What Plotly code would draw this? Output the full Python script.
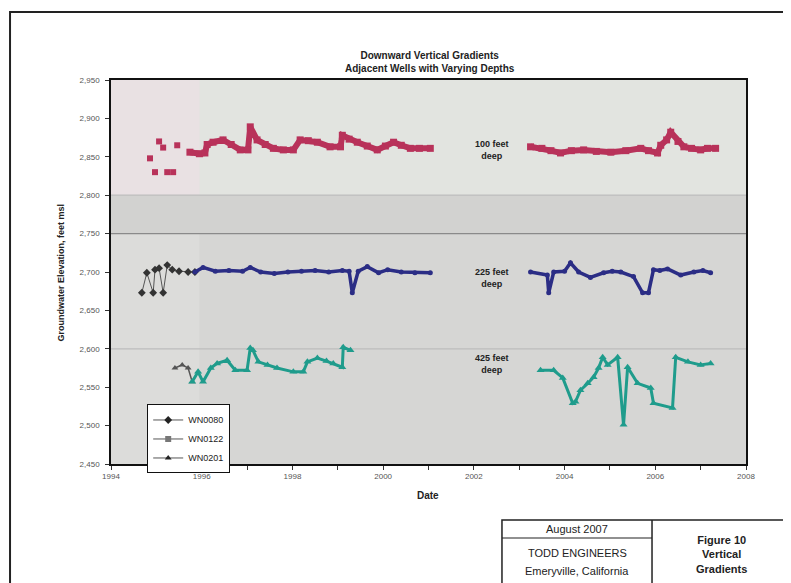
import plotly.graph_objects as go

# ---------------- data (decimal years, feet msl) ----------------
# WN0122 - 100 feet deep
wn0122_early_x = [1994.86, 1994.97, 1995.06, 1995.15, 1995.24, 1995.37, 1995.46]
wn0122_early_y = [2848, 2830, 2870, 2862, 2830, 2830, 2865]
wn0122_x = [1995.74, 1995.95, 1996.07, 1996.12, 1996.25, 1996.47, 1996.65, 1996.85, 1997.02,
            1997.07, 1997.22, 1997.4, 1997.58, 1997.8, 1998.02, 1998.17, 1998.35, 1998.55,
            1998.83, 1999.06, 1999.1, 1999.25, 1999.43, 1999.65, 1999.87, 2000.05, 2000.23,
            2000.4, 2000.6, 2000.8, 2001.04,
            None,
            2003.25, 2003.5, 2003.7, 2003.91, 2004.15, 2004.42, 2004.7, 2005.02, 2005.35,
            2005.68, 2005.85, 2006.05, 2006.12, 2006.25, 2006.34, 2006.5, 2006.63, 2006.8,
            2007.0, 2007.15, 2007.33]
wn0122_y = [2856, 2854, 2855, 2866, 2869, 2872, 2866, 2859, 2859,
            2889, 2872, 2866, 2861, 2859, 2859, 2872, 2871, 2869,
            2863, 2863, 2878, 2873, 2869, 2864, 2859, 2864, 2869,
            2865, 2861, 2861, 2861,
            None,
            2863, 2861, 2858, 2855, 2858, 2859, 2857, 2856, 2858,
            2861, 2858, 2855, 2865, 2872, 2882, 2870, 2863, 2861,
            2859, 2861, 2861]

# WN0080 - 225 feet deep
wn0080_early_x = [1994.68, 1994.79, 1994.93, 1994.97, 1995.06, 1995.15, 1995.24, 1995.35,
                  1995.5, 1995.7, 1995.85]
wn0080_early_y = [2673, 2699, 2673, 2703, 2705, 2673, 2709, 2703, 2701, 2700, 2700]
wn0080_x = [1995.85, 1996.03, 1996.3, 1996.6, 1996.9, 1997.07, 1997.3, 1997.6, 1997.9,
            1998.2, 1998.5, 1998.8, 1999.1, 1999.25, 1999.32, 1999.45, 1999.65, 1999.9,
            2000.1, 2000.4, 2000.7, 2001.04,
            None,
            2003.25, 2003.62, 2003.65, 2003.76, 2004.0, 2004.13, 2004.31, 2004.57, 2004.86,
            2005.05, 2005.24, 2005.52, 2005.72, 2005.85, 2005.96, 2006.1, 2006.27, 2006.56,
            2006.85, 2007.05, 2007.22]
wn0080_y = [2700, 2706, 2701, 2702, 2701, 2706, 2700, 2698, 2700,
            2701, 2702, 2700, 2702, 2701, 2673, 2701, 2707, 2699,
            2703, 2700, 2699, 2699,
            None,
            2700, 2696, 2673, 2700, 2701, 2712, 2700, 2693, 2699,
            2701, 2700, 2694, 2673, 2673, 2703, 2702, 2704, 2696,
            2700, 2702, 2699]

# WN0201 - 425 feet deep
wn0201_early_x = [1995.41, 1995.57, 1995.7, 1995.79]
wn0201_early_y = [2575, 2579, 2575, 2557]
wn0201_x = [1995.79, 1995.92, 1996.03, 1996.2, 1996.34, 1996.56, 1996.74, 1997.0, 1997.07,
            1997.13, 1997.25, 1997.45, 1997.66, 1998.02, 1998.24, 1998.33, 1998.55, 1998.75,
            1998.9, 1999.1, 1999.12, 1999.28,
            None,
            2003.47, 2003.76, 2003.96, 2004.18, 2004.24, 2004.35, 2004.51, 2004.64, 2004.75,
            2004.84, 2004.95, 2005.17, 2005.3, 2005.39, 2005.61, 2005.9, 2005.96, 2006.38,
            2006.45, 2006.72, 2007.0, 2007.22]
wn0201_y = [2557, 2570, 2557, 2575, 2581, 2585, 2572, 2572, 2601,
            2598, 2583, 2579, 2575, 2570, 2570, 2583, 2588, 2584,
            2581, 2576, 2602, 2598,
            None,
            2572, 2572, 2562, 2529, 2531, 2546, 2555, 2563, 2575,
            2589, 2579, 2589, 2501, 2576, 2555, 2549, 2529, 2523,
            2589, 2583, 2579, 2581]

depth_labels = ["100 feet<br>deep", "225 feet<br>deep", "425 feet<br>deep"]
depth_label_y = [2859, 2692, 2580]
depth_label_x = 2002.4

y_ticks = list(range(2450, 2951, 50))
x_ticks = list(range(1994, 2009, 2))

RED = "#b8325a"
BLUE = "#2b2d85"
TEAL = "#1f9c8c"
DARK = "#333333"
FONT = "Liberation Sans, Arial"

fig = go.Figure()

# background bands (scan look)
fig.add_shape(type="rect", xref="x", yref="y", x0=1994, x1=1995.95, y0=2450, y1=2800,
              fillcolor="#dcdcda", line_width=0, layer="below")
fig.add_shape(type="rect", xref="x", yref="y", x0=1994, x1=2008, y0=2800, y1=2950,
              fillcolor="#e2e4e0", line_width=0, layer="below")
fig.add_shape(type="rect", xref="x", yref="y", x0=1994, x1=1995.95, y0=2800, y1=2950,
              fillcolor="#e9e1e3", line_width=0, layer="below")
fig.add_shape(type="rect", xref="x", yref="y", x0=1994, x1=2008, y0=2750, y1=2800,
              fillcolor="#d2d2d0", line_width=0, layer="below")
for yv, col in [(2800, "#bdbdbd"), (2750, "#8a8a8a"), (2600, "#bcbcbc")]:
    fig.add_shape(type="line", xref="x", yref="y", x0=1994, x1=2008, y0=yv, y1=yv,
                  line=dict(color=col, width=1.2), layer="below")

# data traces
fig.add_trace(go.Scatter(x=wn0122_early_x, y=wn0122_early_y, mode="markers",
                         marker=dict(symbol="square", size=6, color=RED),
                         showlegend=False, hoverinfo="skip"))
fig.add_trace(go.Scatter(x=wn0122_x, y=wn0122_y, mode="lines+markers",
                         line=dict(color=RED, width=6),
                         marker=dict(symbol="square", size=7, color=RED),
                         showlegend=False, connectgaps=False))
fig.add_trace(go.Scatter(x=wn0080_early_x, y=wn0080_early_y, mode="lines+markers",
                         line=dict(color="#555555", width=1),
                         marker=dict(symbol="diamond", size=6, color=DARK),
                         showlegend=False))
fig.add_trace(go.Scatter(x=wn0080_x, y=wn0080_y, mode="lines+markers",
                         line=dict(color=BLUE, width=3.5),
                         marker=dict(symbol="circle", size=5, color=BLUE),
                         showlegend=False, connectgaps=False))
fig.add_trace(go.Scatter(x=wn0201_early_x, y=wn0201_early_y, mode="lines+markers",
                         line=dict(color="#555555", width=1.5),
                         marker=dict(symbol="triangle-up", size=6, color="#555555"),
                         showlegend=False))
fig.add_trace(go.Scatter(x=wn0201_x, y=wn0201_y, mode="lines+markers",
                         line=dict(color=TEAL, width=3),
                         marker=dict(symbol="triangle-up", size=7, color=TEAL),
                         showlegend=False, connectgaps=False))

# legend entries
for name, sym, col in [("WN0080", "diamond", "#222222"),
                       ("WN0122", "square", "#777777"),
                       ("WN0201", "triangle-up", "#222222")]:
    fig.add_trace(go.Scatter(x=[None], y=[None], mode="lines+markers", name=name,
                             line=dict(color="#555555", width=1),
                             marker=dict(symbol=sym, size=6, color=col)))


def ann(x, y, text, size, xref="paper", yref="paper", **kw):
    return dict(x=x, y=y, xref=xref, yref=yref, text=text, showarrow=False,
                xanchor="center", yanchor="middle", align="center",
                font=dict(family=FONT, size=size, color="#222"), **kw)


annotations = []
for t, yv in zip(depth_labels, depth_label_y):
    annotations.append(ann(depth_label_x, yv, "<b>" + t.replace("<br>", "</b><br><b>") + "</b>",
                           9, xref="x", yref="y"))

annotations += [
    ann(0.502, 1.047, "<b>Downward Vertical Gradients</b><br><b>Adjacent Wells with Varying Depths</b>", 10),
    ann(-0.078, 0.5, "<b>Groundwater Elevation, feet msl</b>", 9, textangle=-90),
    ann(0.499, -0.083, "<b>Date</b>", 10),
    ann(0.734, -0.170, "August 2007", 11),
    ann(0.734, -0.232, "TODD ENGINEERS", 11),
    ann(0.734, -0.278, "Emeryville, California", 11),
    ann(0.962, -0.236, "<b>Figure 10</b><br><b>Vertical</b><br><b>Gradients</b>", 11),
]

shapes_paper = [
    # page frame
    dict(type="rect", xref="paper", yref="paper", x0=-0.159, x1=1.0677, y0=-0.33, y1=1.177,
         line=dict(color="#222", width=2), fillcolor="rgba(0,0,0,0)"),
    # title block
    dict(type="rect", xref="paper", yref="paper", x0=0.6157, x1=1.08, y0=-0.33, y1=-0.1458,
         line=dict(color="#222", width=1.5), fillcolor="rgba(0,0,0,0)"),
    dict(type="line", xref="paper", yref="paper", x0=0.852, x1=0.852, y0=-0.33, y1=-0.1458,
         line=dict(color="#222", width=1.5)),
    dict(type="line", xref="paper", yref="paper", x0=0.6157, x1=0.852, y0=-0.1927, y1=-0.1927,
         line=dict(color="#222", width=1.2)),
]
for s in shapes_paper:
    fig.add_shape(**s)

# the page body has an 8px margin, so the figure is sized to the visible window
fig.update_layout(
    width=783, height=575,
    margin=dict(l=103, r=45, t=72, b=119),
    paper_bgcolor="white",
    plot_bgcolor="#d6d6d4",
    font=dict(family=FONT, size=8, color="#444"),
    annotations=annotations,
    legend=dict(x=0.057, y=0.155, xanchor="left", yanchor="top",
                bgcolor="white", bordercolor="#111", borderwidth=1,
                font=dict(family=FONT, size=9, color="#222"),
                itemwidth=30, tracegroupgap=0),
    showlegend=True,
)
fig.update_xaxes(range=[1994, 2008], tickvals=x_ticks, ticktext=[str(v) for v in x_ticks],
                 ticks="outside", ticklen=4, tickcolor="#333",
                 minor=dict(dtick=1, ticks="outside", ticklen=4, tickcolor="#333"),
                 showgrid=False, zeroline=False, showline=True, linecolor="#111",
                 linewidth=1.5, mirror=True,
                 tickfont=dict(size=8, color="#555"))
fig.update_yaxes(range=[2450, 2950], tickvals=y_ticks, tickformat=",",
                 ticks="outside", ticklen=4, tickcolor="#333", ticklabelstandoff=4,
                 showgrid=False, zeroline=False, showline=True, linecolor="#111",
                 linewidth=1.5, mirror=True,
                 tickfont=dict(size=8, color="#555"))

fig.write_html("out.html")
